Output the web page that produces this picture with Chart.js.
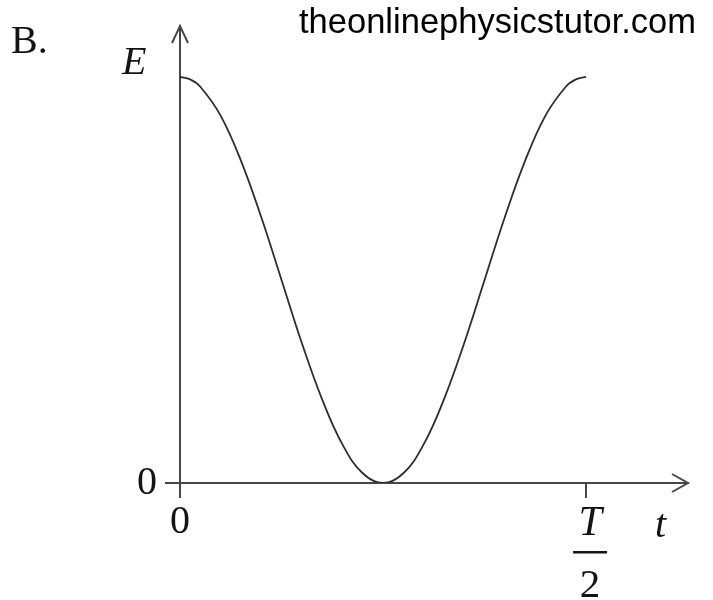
<!DOCTYPE html>
<html>
<head>
<meta charset="utf-8">
<script src="https://cdn.jsdelivr.net/npm/chart.js@4/dist/chart.umd.min.js"></script>
<style>
  html, body { margin: 0; padding: 0; background: #fff; }
</style>
</head>
<body>
<canvas id="energy-chart" width="713" height="600"></canvas>
<script>
// t as a fraction of T/2, E as a fraction of its maximum
const tValues = [0, 0.025, 0.05, 0.1, 0.15, 0.2, 0.25, 0.3, 0.35, 0.4, 0.45, 0.5,
                 0.55, 0.6, 0.65, 0.7, 0.75, 0.8, 0.85, 0.9, 0.95, 0.975, 1];
const eValues = [1.000, 0.994, 0.976, 0.905, 0.794, 0.655, 0.500, 0.345, 0.206, 0.095, 0.024, 0.000,
                 0.024, 0.095, 0.206, 0.345, 0.500, 0.655, 0.794, 0.905, 0.976, 0.994, 1.000];
const xTickValues = [0, 1];
const xTickLabels = ["0", "T/2"];
const yTickValues = [0];
const yTickLabels = ["0"];
const xAxisTitle = "t";
const yAxisTitle = "E";
const panelLabel = "B.";
const watermark = "theonlinephysicstutor.com";

const AXIS = "#474747";
const INK = "#141414";
const SERIF = '"Liberation Serif", "Times New Roman", serif';

// arrows, fraction label, axis letters and the page text
const sketchDecor = {
    id: "sketchDecor",
    afterDraw(chart) {
        const { ctx, chartArea } = chart;
        const x = chart.scales.x;
        const y = chart.scales.y;
        const x0 = x.getPixelForValue(0);
        const y0 = y.getPixelForValue(0);

        ctx.save();
        ctx.strokeStyle = AXIS;
        ctx.lineWidth = 2;
        ctx.lineJoin = "miter";
        ctx.beginPath();
        ctx.moveTo(x0 - 8, chartArea.top + 17);
        ctx.lineTo(x0, chartArea.top);
        ctx.lineTo(x0 + 8, chartArea.top + 17);
        ctx.moveTo(chartArea.right - 16, y0 - 9);
        ctx.lineTo(chartArea.right, y0);
        ctx.lineTo(chartArea.right - 16, y0 + 9);
        ctx.stroke();

        // T over 2 under the last tick
        const [num, den] = xTickLabels[1].split("/");
        const xf = x.getPixelForValue(xTickValues[1]) + 4;
        ctx.fillStyle = INK;
        ctx.textAlign = "center";
        ctx.textBaseline = "alphabetic";
        ctx.font = "italic 42px " + SERIF;
        ctx.fillText(num, xf, y0 + 52);
        ctx.font = "41px " + SERIF;
        ctx.fillText(den, xf, y0 + 114);
        ctx.fillRect(xf - 17, y0 + 68, 34, 2.5);

        // axis letters
        ctx.font = "italic 40px " + SERIF;
        ctx.textAlign = "left";
        ctx.fillText(xAxisTitle, 655, y0 + 54);
        ctx.fillText(yAxisTitle, 122, 74);

        // panel label and watermark
        ctx.font = "40px " + SERIF;
        ctx.fillText(panelLabel, 11, 53);
        ctx.fillStyle = "#000";
        ctx.font = '34.5px "Liberation Sans", Arial, sans-serif';
        ctx.textAlign = "right";
        ctx.fillText(watermark, 696, 33);
        ctx.restore();
    }
};

const ctx = document.getElementById("energy-chart").getContext("2d");
new Chart(ctx, {
    type: "line",
    data: {
        datasets: [{
            data: tValues.map((t, i) => ({ x: t, y: eValues[i] })),
            borderColor: "#2e2e2e",
            borderWidth: 1.8,
            pointRadius: 0,
            fill: false,
            tension: 0.4,
        }],
    },
    options: {
        responsive: false,
        animation: false,
        layout: { padding: { top: 26, right: 25, left: 0, bottom: 0 } },
        plugins: {
            legend: { display: false },
            tooltip: { enabled: false },
        },
        scales: {
            x: {
                type: "linear",
                min: 0,
                max: 1.251,
                afterBuildTicks: (scale) => {
                    scale.ticks = xTickValues.map((v) => ({ value: v }));
                },
                afterFit: (scale) => {
                    scale.height = 117;
                    scale.paddingLeft = 0;
                    scale.paddingRight = 0;
                },
                grid: {
                    drawOnChartArea: false,
                    drawTicks: true,
                    tickLength: 15,
                    color: AXIS,
                    lineWidth: 2,
                },
                border: { display: true, color: AXIS, width: 2 },
                ticks: {
                    autoSkip: false,
                    maxRotation: 0,
                    padding: 0,
                    color: INK,
                    font: { family: SERIF, size: 40 },
                    // the fraction is drawn by sketchDecor
                    callback: (value) => {
                        const label = xTickLabels[xTickValues.indexOf(value)];
                        return label && label.includes("/") ? "" : label;
                    },
                },
            },
            y: {
                type: "linear",
                min: 0,
                max: 1.1256,
                afterBuildTicks: (scale) => {
                    scale.ticks = yTickValues.map((v) => ({ value: v }));
                },
                afterFit: (scale) => {
                    scale.width = 180;
                    scale.paddingTop = 0;
                    scale.paddingBottom = 0;
                },
                grid: {
                    drawOnChartArea: false,
                    drawTicks: true,
                    tickLength: 15,
                    color: AXIS,
                    lineWidth: 2,
                },
                border: { display: true, color: AXIS, width: 2 },
                ticks: {
                    padding: 8,
                    color: INK,
                    font: { family: SERIF, size: 40 },
                    callback: (value) => yTickLabels[yTickValues.indexOf(value)],
                },
            },
        },
    },
    plugins: [sketchDecor],
});
</script>
</body>
</html>
